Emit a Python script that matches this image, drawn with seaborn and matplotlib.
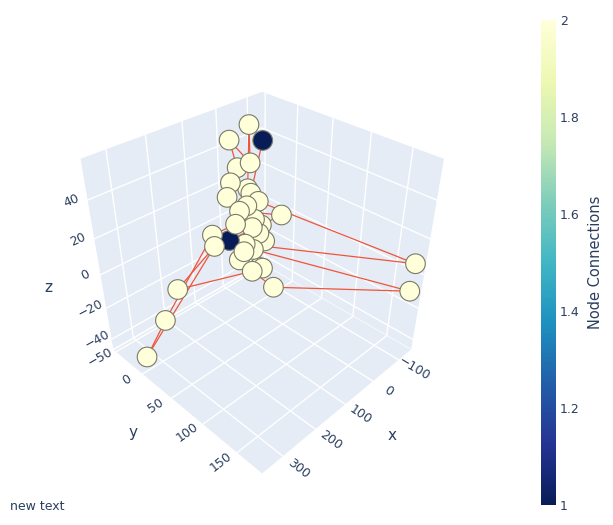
import math
import numpy as np
import matplotlib
matplotlib.use("Agg")
import matplotlib.pyplot as plt
import seaborn as sns
from mpl_toolkits.mplot3d.art3d import Line3DCollection
from matplotlib.colors import Normalize
from matplotlib.cm import ScalarMappable

# ---- data (nodes listed in chain order) ----
node_x = [-41, 60, 45, -35, 18, 12, 42, 83, 115, 141, 185, 323, 359, 206, 302,
          157, 138, -134, 122, 127, 124, 166, 152, 130, -136, 56, 93, 93, 72, 84,
          81, 104, 109, 33, 164]
node_y = [-3, 27, 15, -21, 6, -29, -2, 8, 19, 44, 32, 29, 13, 46, 41,
          75, 96, 175, 60, 71, 74, 61, 61, 52, 176, 36, 37, 48, 48, 50,
          57, 50, 34, 59, 46]
node_z = [48, 33, 32, 54, 42, 48, 40, 37, 34, 27, 23, -10, -32, 22, 8,
          10, 4, -10, 15, 8, 8, 14, 17, 17, 6, 30, 31, 26, 21, 18,
          15, 23, 29, 25, 21]
edge_src = [0, 1, 2, 3, 4, 5, 6, 7, 8, 9, 10, 11, 12, 13, 14, 15, 16,
            17, 18, 19, 20, 21, 22, 23, 24, 25, 26, 27, 28, 29, 30, 31, 32, 33]
edge_dst = [1, 2, 3, 4, 5, 6, 7, 8, 9, 10, 11, 12, 13, 14, 15, 16, 17,
            18, 19, 20, 21, 22, 23, 24, 25, 26, 27, 28, 29, 30, 31, 32, 33, 34]
x_ticks = [-100, 0, 100, 200, 300]
y_ticks = [-50, 0, 50, 100, 150]
z_ticks = [-40, -20, 0, 20, 40]
x_ticklabels = ["\u2212100", "0", "100", "200", "300"]
y_ticklabels = ["\u221250", "0", "50", "100", "150"]
z_ticklabels = ["\u221240", "\u221220", "0", "20", "40"]
cbar_ticks = [1, 1.2, 1.4, 1.6, 1.8, 2]
cbar_ticklabels = ["1", "1.2", "1.4", "1.6", "1.8", "2"]

# degree of each node = number of connections
connections = np.zeros(len(node_x))
for s, d in zip(edge_src, edge_dst):
    connections[s] += 1
    connections[d] += 1

sns.set_theme(style="white")
plt.rcParams["font.family"] = ["DejaVu Sans"]
plt.rcParams["grid.color"] = "white"
plt.rcParams["grid.linewidth"] = 1.0
plt.rcParams["grid.linestyle"] = "-"

TXT = "#2a3f5f"
PANE = "#E5ECF6"
cmap = sns.color_palette("YlGnBu_r", as_cmap=True)
norm = Normalize(vmin=1, vmax=2)

XLIM = (-150, 362)
YLIM = (-55, 185)
ZLIM = (-47, 60)
dx, dy, dz = XLIM[1] - XLIM[0], YLIM[1] - YLIM[0], ZLIM[1] - ZLIM[0]

fig = plt.figure(figsize=(6.13, 5.25), dpi=100)
ax = fig.add_subplot(projection="3d", computed_zorder=False)
ax.set_position([-0.016, -0.016, 0.864, 1.0])
ax.set_proj_type("persp", focal_length=0.238)
ax.view_init(elev=35.26, azim=45)
ax.set_box_aspect((1, 1, 1), zoom=0.745)

ax.set_xlim(*XLIM)
ax.set_ylim(*YLIM)
ax.set_zlim(*ZLIM)

for axis in (ax.xaxis, ax.yaxis, ax.zaxis):
    axis.set_pane_color(PANE)
    axis.pane.set_edgecolor("white")
    axis.line.set_color("white")
    axis._axinfo["tick"]["inward_factor"] = 0.0
    axis._axinfo["tick"]["outward_factor"] = 0.0

segs = [[(node_x[s], node_y[s], node_z[s]), (node_x[d], node_y[d], node_z[d])]
        for s, d in zip(edge_src, edge_dst)]
lc = Line3DCollection(segs, colors="#EF553B", linewidths=0.9, zorder=2)
ax.add_collection3d(lc)

ax.scatter(node_x, node_y, node_z, c=connections, cmap=cmap, norm=norm,
           s=200, edgecolors="#7a7a6a", linewidths=0.8, alpha=1.0,
           depthshade=False, zorder=3)

ax.set_xticks(x_ticks)
ax.set_yticks(y_ticks)
ax.set_zticks(z_ticks)
for axis in (ax.xaxis, ax.yaxis, ax.zaxis):
    axis.set_tick_params(label1On=False, label2On=False)
ax.set_xlabel("")
ax.set_ylabel("")
ax.set_zlabel("")

# colorbar
cax = fig.add_axes([541 / 613, 20 / 525, 15 / 613, 485 / 525])
sm = ScalarMappable(norm=norm, cmap=cmap)
cb = fig.colorbar(sm, cax=cax, ticks=cbar_ticks)
cb.set_ticklabels(cbar_ticklabels)
cb.outline.set_visible(False)
cax.tick_params(length=0, labelsize=9, colors=TXT, pad=3)
cb.set_label("Node Connections", fontsize=10.5, color=TXT, labelpad=6)

# ---- tick labels: project 3D anchor points to figure coords, rotate along edges
fig.canvas.draw()
M = ax.M


def to_fig(px, py, pz):
    v = M @ np.array([px, py, pz, 1.0])
    disp = ax.transData.transform((v[0] / v[3], v[1] / v[3]))
    return disp


def place(px, py, pz, text, direction):
    p0 = to_fig(px, py, pz)
    p1 = to_fig(px + direction[0], py + direction[1], pz + direction[2])
    ang = math.degrees(math.atan2(p1[1] - p0[1], p1[0] - p0[0]))
    if ang > 90:
        ang -= 180
    if ang < -90:
        ang += 180
    fx, fy = fig.transFigure.inverted().transform(p0)
    fig.text(fx, fy, text, fontsize=9, color=TXT, rotation=ang,
             ha="center", va="center")


for v, lab in zip(x_ticks, x_ticklabels):
    place(v, YLIM[1] + 0.08 * dy, ZLIM[0], lab, (0, 1, 0))
for v, lab in zip(y_ticks, y_ticklabels):
    place(XLIM[1] + 0.08 * dx, v, ZLIM[0] + 0.02 * dz, lab, (1, 0, 0))
for v, lab in zip(z_ticks, z_ticklabels):
    place(XLIM[1] + 0.045 * dx, YLIM[0] - 0.045 * dy, v, lab, (1, 0, 0))

# axis titles placed like the reference
fig.text(392 / 613, 1 - 435 / 525, "x", fontsize=11, color=TXT, ha="center", va="center")
fig.text(133 / 613, 1 - 433 / 525, "y", fontsize=11, color=TXT, ha="center", va="center")
fig.text(48 / 613, 1 - 287 / 525, "z", fontsize=11, color=TXT, ha="center", va="center")

fig.text(10 / 613, 1 - 506 / 525, "new text", fontsize=9, color=TXT,
         ha="left", va="center")

fig.savefig("out.png", dpi=100)
